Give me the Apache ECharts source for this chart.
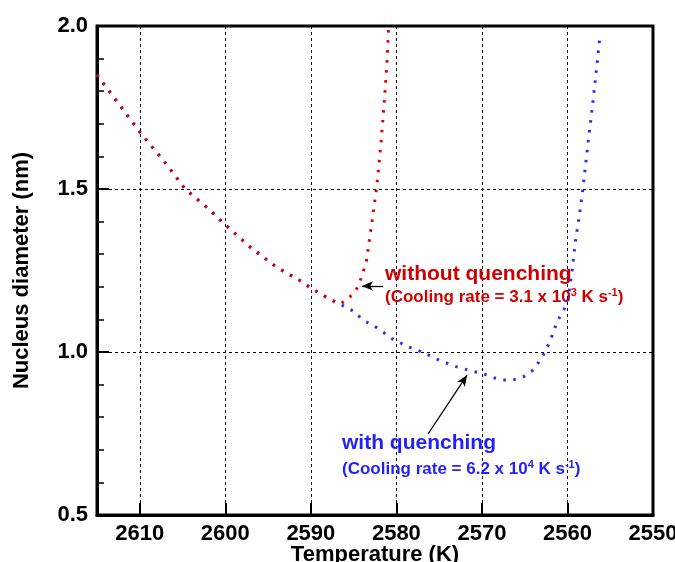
<!DOCTYPE html>
<html lang="en">

<head>
    <meta charset="UTF-8">
    <title>Nucleus diameter</title>
    <style>
        body { margin: 0; background: #fff; }
        .chart { width: 675px; height: 562px; }
    </style>
</head>

<body>
    <div class="chart"></div>
    <script src="https://cdn.jsdelivr.net/npm/echarts@6/dist/echarts.min.js"></script>
    <script>
        // shared part of both curves (temperature K, diameter nm)
        let commonT = [2615, 2612, 2610, 2607, 2604.7, 2602, 2600, 2597, 2594, 2591, 2590, 2588, 2586.6];
        let commonD = [1.85, 1.745, 1.675, 1.58, 1.50, 1.44, 1.39, 1.32, 1.26, 1.215, 1.196, 1.165, 1.147];
        // without quenching
        let redT = [2585.8, 2585.0, 2584.5, 2584.0, 2583.5, 2582.9, 2582.3, 2581.8, 2581.4, 2581.1, 2580.9];
        let redD = [1.16, 1.18, 1.20, 1.235, 1.28, 1.39, 1.507, 1.64, 1.773, 1.89, 2.0];
        // with quenching
        let blueT = [2585, 2583.9, 2582.5, 2581.5, 2580.4, 2578.5, 2577, 2575, 2573, 2571, 2570, 2568.5, 2567.3, 2566, 2565.2, 2564, 2563.2, 2562.6, 2561.8, 2561.2, 2560, 2559.5, 2559.1, 2558.6, 2558.2, 2557.6, 2557.0, 2556.6, 2556.2];
        let blueD = [1.125, 1.098, 1.078, 1.06, 1.039, 1.015, 1.0, 0.975, 0.955, 0.94, 0.935, 0.92, 0.914, 0.916, 0.923, 0.945, 0.975, 1.0, 1.05, 1.093, 1.15, 1.24, 1.334, 1.42, 1.50, 1.64, 1.773, 1.87, 1.97];
        let xTicks = [2550, 2615, 10];
        let yTicks = [0.5, 2.0, 0.5];

        let font = "'Liberation Sans', Arial, sans-serif";
        let pair = (t, d) => t.map((v, i) => [v, d[i]]);
        let redData = pair(commonT.concat(redT), commonD.concat(redD));
        let blueData = pair(commonT.concat(blueT), commonD.concat(blueD));

        let arrow = (from, to) => ({
            silent: true,
            animation: false,
            symbol: ['none', 'arrow'],
            symbolSize: [7, 11],
            label: { show: false },
            lineStyle: { color: '#000', width: 1.3, type: 'solid' },
            data: [[{ coord: from }, { coord: to }]]
        });

        let option = {
            animation: false,
            grid: {
                left: 97, right: 22, top: 26, bottom: 47,
                outerBoundsMode: 'none',
                containLabel: false,
                show: true, borderColor: '#000', borderWidth: 3
            },
            xAxis: {
                type: 'value',
                inverse: true,
                min: xTicks[0], max: xTicks[1], interval: xTicks[2],
                name: 'Temperature (K)',
                nameLocation: 'middle',
                nameGap: 29,
                nameMoveOverlap: false,
                nameTextStyle: { fontSize: 22, fontWeight: 'bold', color: '#000', fontFamily: font, verticalAlign: 'top' },
                axisLine: { lineStyle: { color: '#000', width: 3 } },
                axisTick: { inside: true, length: 12, lineStyle: { color: '#000', width: 2 } },
                axisLabel: {
                    margin: 8, fontSize: 22, fontWeight: 'bold', color: '#000', fontFamily: font,
                    formatter: v => v == 2615 ? '' : v
                },
                splitLine: { show: true, lineStyle: { color: '#000', width: 1, type: [3, 3] } }
            },
            yAxis: {
                type: 'value',
                min: yTicks[0], max: yTicks[1], interval: yTicks[2],
                name: 'Nucleus diameter (nm)',
                nameLocation: 'middle',
                nameGap: 64,
                nameTextStyle: { fontSize: 22, fontWeight: 'bold', color: '#000', fontFamily: font },
                axisLine: { lineStyle: { color: '#000', width: 3 } },
                axisTick: { inside: true, length: 12, lineStyle: { color: '#000', width: 2 } },
                minorTick: { show: true, splitNumber: 5, length: 7, lineStyle: { color: '#000', width: 1.5 } },
                axisLabel: {
                    margin: 9, fontSize: 22, fontWeight: 'bold', color: '#000', fontFamily: font,
                    formatter: v => v.toFixed(1)
                },
                splitLine: { show: true, lineStyle: { color: '#000', width: 1, type: [3, 3] } }
            },
            series: [{
                type: 'line',
                data: blueData,
                showSymbol: false,
                lineStyle: { color: '#2a2aff', width: 3, type: [2.5, 7.5], cap: 'butt' },
                markLine: arrow([2576.3, 0.7485], [2571.74, 0.929])
            }, {
                type: 'line',
                data: redData,
                showSymbol: false,
                lineStyle: { color: '#dd0000', width: 3, type: [2.5, 7.5], cap: 'butt' },
                markLine: arrow([2581.57, 1.2025], [2584.02, 1.2025])
            }]
        };

        let myChart = echarts.init(document.querySelector('.chart'));
        myChart.setOption(option);

        let sub = (color, text, sup1, sup2) => ({
            type: 'text',
            style: {
                text: `{a|(Cooling rate = ${text} x 10}{s|${sup1}}{a| K s}{s|${sup2}}{a|)}`,
                fill: color,
                fontFamily: font,
                fontWeight: 'bold',
                rich: {
                    a: { fontSize: 17, fontWeight: 'bold', fontFamily: font, fill: color, lineHeight: 20 },
                    s: { fontSize: 11, fontWeight: 'bold', fontFamily: font, fill: color, verticalAlign: 'top' }
                }
            }
        });
        let title = (color, text) => ({
            type: 'text',
            style: { text: text, fill: color, fontFamily: font, fontWeight: 'bold', fontSize: 21 }
        });

        myChart.setOption({
            graphic: [
                Object.assign(title('#d00000', 'without quenching'), { left: 385, top: 264 }),
                Object.assign(sub('#d00000', '3.1', '3', '-1'), { left: 385, top: 287 }),
                Object.assign(title('#1f1fff', 'with quenching'), { left: 342, top: 433 }),
                Object.assign(sub('#1f1fff', '6.2', '4', '-1'), { left: 342, top: 459 })
            ]
        });
    </script>
</body>

</html>
